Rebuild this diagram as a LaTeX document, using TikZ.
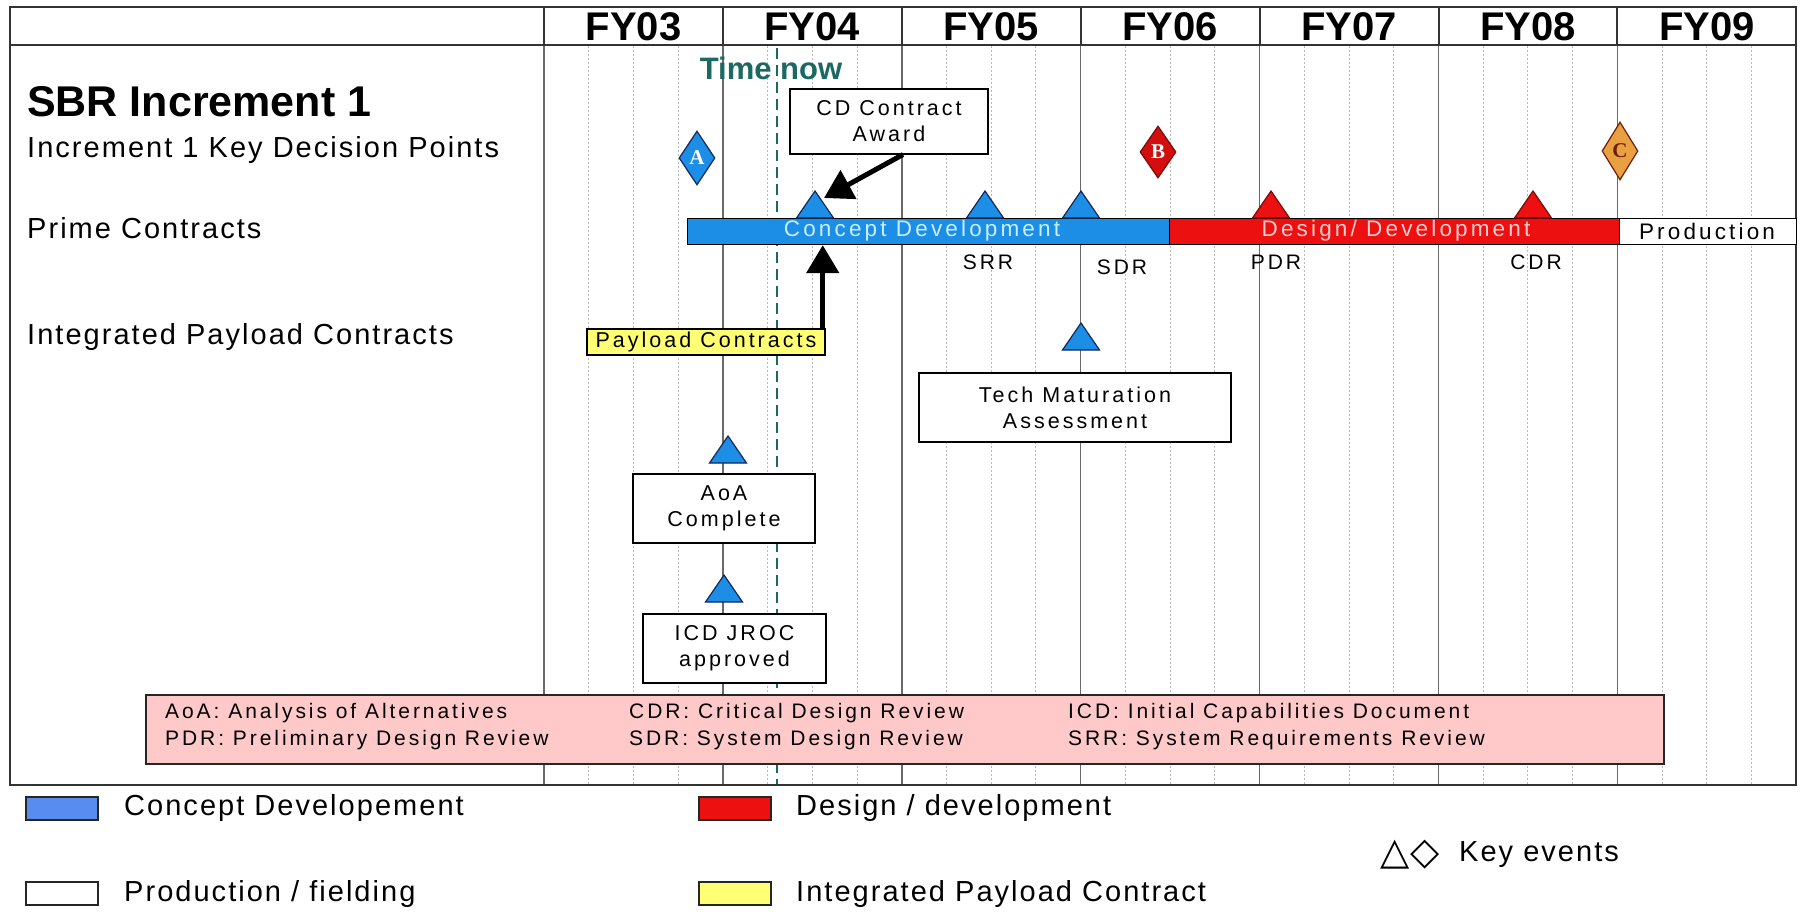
\documentclass[tikz,border=0pt]{standalone}
\usepackage{fontspec}
\setmainfont{Liberation Sans}
\newfontfamily\msans[LetterSpace=14]{Liberation Sans}
\newfontfamily\lsans[LetterSpace=7]{Liberation Sans}
\newfontfamily\serifb{Liberation Serif}
\newfontfamily\symf{DejaVu Sans}
\usetikzlibrary{arrows.meta,shapes.geometric}
\definecolor{cdblue}{RGB}{28,142,230}
\definecolor{ddred}{RGB}{236,16,16}
\definecolor{lgblue}{RGB}{88,140,238}
\definecolor{pyel}{RGB}{255,255,115}
\definecolor{pinkbg}{RGB}{255,201,201}
\definecolor{tealc}{RGB}{28,104,98}
\definecolor{gridc}{RGB}{185,185,185}
\definecolor{ylinec}{RGB}{105,105,105}
\definecolor{dorange}{RGB}{232,160,64}
\definecolor{navyc}{RGB}{20,40,90}
\definecolor{dredc}{RGB}{120,10,10}
\definecolor{cdtext}{RGB}{200,238,255}
\definecolor{ddtext}{RGB}{255,205,205}
\definecolor{brownc}{RGB}{110,30,10}
\newcommand\evtri[4]{%
  \coordinate (#1) at (#2,#3);
  \draw[line width=1.2, #4] ({#2-18.5},#3) -- ({#2+18.5},#3) -- (#2,{#3-27}) -- cycle;}
\begin{document}
\begin{tikzpicture}[x=1pt,y=-1pt,
  gridl/.style={gridc, line width=1, dash pattern=on 2 off 2},
  yearl/.style={ylinec, line width=1.5},
  framel/.style={black!80, line width=2},
  fylab/.style={font=\bfseries\fontsize{40}{44}\selectfont, inner sep=0},
  leftlab/.style={anchor=west, inner sep=0, font=\lsans\fontsize{29}{33}\selectfont},
  smalltxt/.style={inner sep=0, font=\msans\fontsize{21}{26}\selectfont},
  bartxt/.style={inner sep=0, font=\msans\fontsize{22.5}{26}\selectfont},
  boxn/.style={draw=black, line width=2, fill=white, inner sep=0, align=center,
    font=\msans\fontsize{21.5}{26}\selectfont},
  barn/.style={draw=black, line width=1.2, inner sep=0, minimum height=26, anchor=north west},
  bluetri/.style={fill=cdblue, draw=navyc},
  redtri/.style={fill=ddred, draw=dredc},
  dia/.style={diamond, line width=1.2, inner sep=0, minimum width=36, minimum height=54,
    font=\serifb\bfseries\fontsize{21}{21}\selectfont},
  bigarrow/.style={line width=5, -{Triangle[length=28,width=32]}},
  legbox/.style={draw=black!85, line width=2, inner sep=0, minimum width=72, minimum height=23},
  legtext/.style={anchor=west, inner sep=0, font=\lsans\fontsize{29}{33}\selectfont},
]
\useasboundingbox (0,0) rectangle (1801,911);
\fill[white] (0,0) rectangle (1801,911);
% grid
\foreach \i in {0,...,6}{
  \foreach \q in {1,2,3}{
    \draw[gridl] ({544+178.9*\i+44.725*\q},46) -- ({544+178.9*\i+44.725*\q},784);
  }
}
\foreach \i in {1,...,6}{
  \draw[yearl] ({544+178.9*\i},46) -- ({544+178.9*\i},784);
  \draw[framel] ({544+178.9*\i},7) -- ({544+178.9*\i},45);
}
\draw[yearl] (544,46) -- (544,784);
\draw[framel] (544,7) -- (544,45);
\draw[framel] (10,45) -- (1796,45);
\draw[framel] (10,7) rectangle (1796,785);
% FY labels
\foreach \i/\t in {0/FY03,1/FY04,2/FY05,3/FY06,4/FY07,5/FY08,6/FY09}{
  \node[fylab] (fy\i) at ({544+178.9*(\i+0.5)},27) {\t};
}
% time now
\draw[tealc, line width=2, dash pattern=on 11 off 6] (777,48) -- (777,784);
\node[inner sep=0, text=tealc, font=\bfseries\fontsize{31}{34}\selectfont] (tnow) at (771,68) {Time now};
% left labels
\node[anchor=west, inner sep=0, font=\bfseries\fontsize{43}{48}\selectfont] (sbr) at (27,102) {SBR Increment 1};
\node[leftlab] (kdp) at (27,150) {Increment 1 Key Decision Points};
\node[leftlab] (pcl) at (27,228) {Prime Contracts};
\node[leftlab] (ipc) at (27,337) {Integrated Payload Contracts};
% diamonds
\node[dia, draw=navyc, fill=cdblue, text=white] (dA) at (697,158) {A};
\node[dia, draw=dredc, fill=ddred!90!black, text=white, minimum height=52] (dB) at (1158,152) {B};
\node[dia, draw=brownc, fill=dorange, text=brownc, minimum height=58] (dC) at (1620,151) {C};
% bars
\node[barn, fill=cdblue, minimum width=482] (cdbar) at (687,218) {};
\node[barn, fill=ddred, minimum width=450] (ddbar) at (1169,218) {};
\node[barn, fill=white, minimum width=177] (prbar) at (1619,218) {};
\node[bartxt, text=cdtext] (cdbart) at (922,231) {Concept Development};
\node[bartxt, text=ddtext] (ddbart) at (1396,231) {Design/ Development};
\node[bartxt] (prbart) at (1707,231) {Production};
% triangles on bar
\evtri{tcd}{815}{218}{bluetri}
\evtri{tsrr}{985}{218}{bluetri}
\evtri{tsdr}{1081}{218}{bluetri}
\evtri{tpdr}{1271}{218}{redtri}
\evtri{tcdr}{1533}{218}{redtri}
\node[smalltxt] (lsrr) at (988,262) {SRR};
\node[smalltxt] (lsdr) at (1122,267) {SDR};
\node[smalltxt] (lpdr) at (1276,262) {PDR};
\node[smalltxt] (lcdr) at (1536,262) {CDR};
% CD contract award
\node[boxn, minimum width=198, minimum height=65] (cdbox) at (889,121) {CD Contract\\Award};
\coordinate (cdtip) at (824,198);
\draw[bigarrow] ([xshift=14]cdbox.south) -- (cdtip);
% payload contracts
\node[boxn, fill=pyel, line width=1.5, minimum width=238, minimum height=26] (plbox) at (706,342) {Payload Contracts};
\draw[bigarrow] ([xshift=-3]plbox.north east) -- ([xshift=-3]plbox.north east |- cdbar.south);
% tech maturation
\evtri{ttma}{1081}{350}{bluetri}
\node[boxn, minimum width=312, minimum height=69] (tmabox) at (1075,407.5) {Tech Maturation\\Assessment};
% AoA
\evtri{taoa}{728}{463}{bluetri}
\node[boxn, minimum width=182, minimum height=69] (aoabox) at (724,508.5) {AoA\\Complete};
% ICD
\evtri{ticd}{724}{602}{bluetri}
\node[boxn, minimum width=183, minimum height=69] (icdbox) at (734.5,648.5) {ICD JROC\\approved};
% acronym box
\node[draw=black!85, line width=2, fill=pinkbg, minimum width=1518, minimum height=69, inner sep=0] (acro) at (905,729.5) {};
\node[smalltxt, anchor=west] (ac1) at (165,713) {AoA: Analysis of Alternatives};
\node[smalltxt, anchor=west] (ac2) at (165,740) {PDR: Preliminary Design Review};
\node[smalltxt, anchor=west] (ac3) at (629,713) {CDR: Critical Design Review};
\node[smalltxt, anchor=west] (ac4) at (629,740) {SDR: System Design Review};
\node[smalltxt, anchor=west] (ac5) at (1068,713) {ICD: Initial Capabilities Document};
\node[smalltxt, anchor=west] (ac6) at (1068,740) {SRR: System Requirements Review};
% legend
\node[legbox, fill=lgblue] (lg1) at (61.5,808) {};
\node[legtext] (lg1t) at (124,808) {Concept Developement};
\node[legbox, fill=ddred] (lg2) at (734.5,808) {};
\node[legtext] (lg2t) at (796,808) {Design / development};
\node[legbox, fill=white] (lg3) at (61.5,893) {};
\node[legtext] (lg3t) at (124,894) {Production / fielding};
\node[legbox, fill=pyel] (lg4) at (734.5,893) {};
\node[legtext] (lg4t) at (796,894) {Integrated Payload Contract};
\node[inner sep=0, font=\symf\fontsize{38}{40}\selectfont] (keysym) at (1410,855) {△◇};
\node[legtext] (keyt) at (1459,855) {Key events};
\end{tikzpicture}
\end{document}
